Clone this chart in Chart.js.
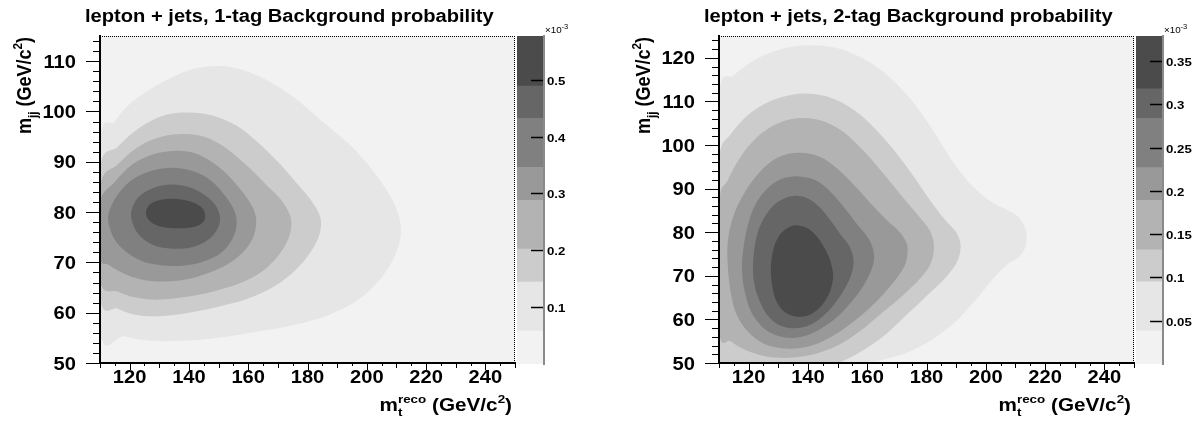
<!DOCTYPE html>
<html>
<head>
<meta charset="utf-8">
<script src="https://cdn.jsdelivr.net/npm/chart.js@4.4.0/dist/chart.umd.min.js"></script>
<style>
  body { margin: 0; background: #fff; width: 1198px; height: 424px; position: relative; overflow: hidden; }
  canvas { position: absolute; top: 0; }
</style>
</head>
<body>
<canvas id="main1" width="516" height="424" style="left:0"></canvas>
<canvas id="pal1" width="85" height="424" style="left:515px"></canvas>
<canvas id="main2" width="516" height="424" style="left:619px"></canvas>
<canvas id="pal2" width="64" height="424" style="left:1134px"></canvas>
<script>
// grey palette, lightest band first
const bandColors = ['#f2f2f2', '#e6e6e6', '#cccccc', '#b3b3b3', '#999999', '#808080', '#666666', '#4b4b4b'];

// contour levels (x10^-3)
const levels1 = [0, 0.058, 0.144, 0.202, 0.288, 0.346, 0.432, 0.489, 0.577];
const levels2 = [0, 0.038, 0.095, 0.132, 0.189, 0.227, 0.284, 0.318, 0.379];

const paletteTicks1 = [0.1, 0.2, 0.3, 0.4, 0.5];
const paletteTicks2 = [0.05, 0.1, 0.15, 0.2, 0.25, 0.3, 0.35];

const xTicks = [120, 140, 160, 180, 200, 220, 240];
const yTicks1 = [50, 60, 70, 80, 90, 100, 110];
const yTicks2 = [50, 60, 70, 80, 90, 100, 110, 120];

// 1-tag contour outlines [m_t, m_jj], outermost level first
const tag1Lvl1 = [[110,93.5],[115,98],[120,101.5],[130,105.5],[140,108.2],[148,109],[156,108.6],[165,106.6],[175,103],[185,98],[195,93],[203,87.5],[209,82],[211.5,77],[210,72],[205,67],[197,62.5],[187,59.5],[175,57.5],[163,56.2],[150,55],[138,54.4],[127,54.4],[118,55.3],[110,56.5]];
const tag1Lvl2 = [[110,88.5],[116,93],[124,97],[132,99.3],[140,99.8],[148,99.2],[156,97.2],[163,94],[170,90],[176,86],[181,82.5],[184.3,79],[184,75.5],[181,72],[176,68.5],[169,65.3],[160,62.8],[150,61.2],[140,60],[130,59.3],[122,59.6],[116,60.8],[110,63]];
const tag1Lvl3 = [[110,85],[116,89.5],[123,93],[131,95],[139,95.5],[146,94.8],[153,92.5],[160,89],[166,85.5],[171,82.5],[174.3,79],[174,75.5],[171,72],[166,68.8],[159,66.3],[150,64.5],[140,63.2],[130,62.6],[122,63],[116,64.2],[110,66.5]];
const tag1Lvl4 = [[110,82],[115,86],[121,89.5],[128,91.5],[136,92.2],[143,91.5],[150,89],[156,85.5],[160.5,82],[162.6,79],[162,75.5],[159,72.5],[154,70],[147,68],[139,66.6],[131,66.2],[124,66.6],[118,67.8],[113,69.5],[110,71]];
const tag1Lvl5 = [[113,80],[116,83.5],[121,86.5],[128,88.3],[135,88.8],[142,88],[148,86],[152.5,83],[155.5,80],[156,77],[154,74],[150,71.5],[144,70],[137,69.3],[130,69.5],[124,70.3],[119,72],[115,74.5],[113,77.5]];
const tag1Lvl6 = [[120.5,80],[123,83],[128,84.8],[134,85.5],[140,85],[145,83.5],[148.8,81.5],[150.5,79],[149.5,76.5],[146,74.3],[141,73],[135,72.7],[129,73.2],[124.5,74.7],[121.5,77]];
const tag1Lvl7 = [[125.5,80],[127,81.6],[131,82.5],[136,82.6],[141,82],[144.5,80.8],[145.5,79],[144,77.6],[140,76.9],[135,76.8],[130,77.2],[126.5,78.4]];

// 2-tag contour outlines [m_t, m_jj]
const tag2Lvl1 = [[110,112],[115,116],[122,119.5],[130,121.8],[138,122.8],[146,122.7],[154,121.3],[162,118.5],[170,114],[177,108.5],[183,102.5],[188,97],[193,92.5],[198,89],[203,86.5],[207.5,85],[211,83.5],[213.5,80.5],[213.5,77],[211.5,74.5],[207,72.5],[202,69],[196,64],[189,59],[181,55],[172,52],[162,50.2],[152,48.5],[130,47],[108,47],[108,80]];
const tag2Lvl2 = [[110,97],[114,102.5],[120,107],[127,110],[135,111.6],[142,111.7],[149,110.5],[156,107.8],[163,103.5],[170,98],[176,92.5],[181,87.5],[186,83],[190,80],[191.5,77],[190.5,73.5],[187,70],[181,66],[174,61.5],[167,57],[160,53.5],[152,50.5],[144,48.5],[130,47],[112,47],[108,52],[108,75]];
const tag2Lvl3 = [[110,86],[113,92],[118,98],[124,102.5],[131,105.3],[138,106.2],[145,105.5],[152,103],[159,98.5],[166,93],[172,88],[177,84],[181,80.5],[182.5,77],[181.5,73],[178,69.5],[172,65.5],[165,61.5],[158,57.5],[150,54],[142,52],[134,51.2],[126,51.5],[119,53],[114,55],[110,57.5]];
const tag2Lvl4 = [[113,78],[115,84],[119,89.5],[124,94],[130,97.2],[137,98.2],[144,97.3],[150,94.5],[156,90.5],[162,86],[167,82.5],[171,80],[173.5,77],[173,73],[170,69.5],[165,65.5],[159,61.5],[152,57.8],[145,55],[138,53.5],[131,53.4],[125,54.5],[120,57],[116,61],[114,66],[113,72]];
const tag2Lvl5 = [[118,75],[119.5,81],[122,86],[126,89.8],[131,92.2],[137,92.8],[143,91.8],[148,89],[153,85],[157,81.5],[160.5,78.5],[162.3,75],[161.5,71.5],[158.5,67.5],[154,63.5],[148.5,59.8],[142,57],[136,55.8],[130,56.2],[125,58],[121,61.5],[118.8,66],[117.8,70.5]];
const tag2Lvl6 = [[121.5,73],[122.5,78.5],[125,83],[129,86.5],[134,88.2],[139,88],[143.5,86],[147.5,82.8],[151,79.5],[154,76.8],[155.4,73.5],[154.5,70],[151.5,66],[147,62],[142,59.2],[136.5,58],[131,58.5],[126.5,60.8],[123.5,64.5],[121.8,68.5]];
const tag2Lvl7 = [[127.5,72],[128.5,76.5],[131,79.8],[135,81.5],[139.5,81],[143,79],[145.5,76.5],[147.5,73.5],[148.5,70],[147.5,66.5],[145,63.5],[141,61.2],[136.5,60.6],[132.5,61.5],[129.5,64],[128,67.5]];

const tag1Contours = [tag1Lvl1, tag1Lvl2, tag1Lvl3, tag1Lvl4, tag1Lvl5, tag1Lvl6, tag1Lvl7];
const tag2Contours = [tag2Lvl1, tag2Lvl2, tag2Lvl3, tag2Lvl4, tag2Lvl5, tag2Lvl6, tag2Lvl7];

const FONT = "'Liberation Sans', Arial, Helvetica, sans-serif";
const STRETCH = 1.15;   // the original text is wider than Arial at the same height
Chart.defaults.font.family = FONT;

// closed Catmull-Rom spline through pixel points
function closedSpline(ctx, pts) {
    const n = pts.length;
    ctx.moveTo(pts[0].x, pts[0].y);
    for (let i = 0; i < n; i++) {
        const p0 = pts[(i - 1 + n) % n], p1 = pts[i], p2 = pts[(i + 1) % n], p3 = pts[(i + 2) % n];
        ctx.bezierCurveTo(
            p1.x + (p2.x - p0.x) / 6, p1.y + (p2.y - p0.y) / 6,
            p2.x - (p3.x - p1.x) / 6, p2.y - (p3.y - p1.y) / 6,
            p2.x, p2.y);
    }
    ctx.closePath();
}

// horizontally stretched text
function wideText(ctx, text, x, y, align, font) {
    ctx.save();
    ctx.translate(x, y);
    ctx.scale(STRETCH, 1);
    ctx.font = font;
    ctx.textAlign = align;
    ctx.textBaseline = 'alphabetic';
    ctx.fillText(text, 0, 0);
    ctx.restore();
}

// text with sub/superscripts: [text, sizeFactor, shift(em, + = down), stackOnPrevious]
function richWidth(ctx, parts, size) {
    let w = 0, lastStart = 0, lastW = 0;
    parts.forEach(([t, f, , stack]) => {
        ctx.font = `bold ${size * f}px ${FONT}`;
        const tw = ctx.measureText(t).width;
        if (stack) { w = lastStart + Math.max(lastW, tw); }
        else { lastStart = w; lastW = tw; w += tw; }
    });
    return w;
}
function drawRich(ctx, parts, size, x, y) {
    let cx = x, lastStart = x, lastW = 0;
    ctx.textAlign = 'left';
    ctx.textBaseline = 'alphabetic';
    parts.forEach(([t, f, dy, stack]) => {
        ctx.font = `bold ${size * f}px ${FONT}`;
        const tw = ctx.measureText(t).width;
        if (stack) {
            ctx.fillText(t, lastStart, y + dy * size);
            cx = lastStart + Math.max(lastW, tw);
        } else {
            ctx.fillText(t, cx, y + dy * size);
            lastStart = cx; lastW = tw; cx += tw;
        }
    });
}

function hline(ctx, x1, y1, x2, y2) {
    ctx.beginPath(); ctx.moveTo(x1, y1); ctx.lineTo(x2, y2); ctx.stroke();
}

const xTitle = [['m', 1, 0], ['t', 0.65, 0.28], ['reco', 0.65, -0.42, true], [' (GeV/c', 1, 0], ['2', 0.65, -0.45], [')', 1, 0]];
const yTitle = [['m', 1, 0], ['jj', 0.65, 0.28], [' (GeV/c', 1, 0], ['2', 0.65, -0.45], [')', 1, 0]];

// ROOT style frame, ticks, titles and filled contours
const rootPlot = {
    id: 'rootPlot',
    beforeDraw(chart) {
        const {ctx, chartArea: a} = chart;
        ctx.save();
        ctx.fillStyle = bandColors[0];
        ctx.fillRect(a.left, a.top, a.right - a.left, a.bottom - a.top);
        ctx.restore();
    },
    beforeDatasetsDraw(chart) {
        const {ctx, chartArea: a} = chart;
        ctx.save();
        ctx.beginPath();
        ctx.rect(a.left, a.top, a.right - a.left, a.bottom - a.top);
        ctx.clip();
        chart.data.datasets.forEach((ds, i) => {
            const pts = chart.getDatasetMeta(i).data.map(p => ({x: p.x, y: p.y}));
            ctx.beginPath();
            closedSpline(ctx, pts);
            ctx.fillStyle = ds.backgroundColor;
            ctx.fill();
        });
        ctx.restore();
    },
    afterDraw(chart, args, opts) {
        const {ctx, chartArea: a} = chart;
        const xs = chart.scales.x, ys = chart.scales.y;
        ctx.save();
        ctx.strokeStyle = '#000';
        ctx.fillStyle = '#000';
        ctx.lineWidth = 1;
        // x ticks below the axis
        for (let v = xs.min; v <= xs.max; v += 5) {
            const px = Math.round(xs.getPixelForValue(v)) + 0.5;
            const len = v % 20 === 0 ? 7 : (v % 10 === 0 ? 5 : 3);
            hline(ctx, px, a.bottom, px, a.bottom + len);
        }
        // y ticks left of the axis
        for (let v = ys.min; v <= ys.max; v += 2) {
            const py = Math.round(ys.getPixelForValue(v)) + 0.5;
            const len = v % 10 === 0 ? 14 : 7;
            hline(ctx, a.left - len, py, a.left, py);
        }
        // dotted top and right frame
        ctx.setLineDash([1, 1]);
        hline(ctx, a.left, a.top + 0.5, a.right, a.top + 0.5);
        hline(ctx, a.right - 0.5, a.top, a.right - 0.5, a.bottom);
        ctx.setLineDash([]);

        // tick labels
        const tickFontStr = `bold 17.5px ${FONT}`;
        xs.ticks.forEach(t => wideText(ctx, String(t.value), xs.getPixelForValue(t.value), 383, 'center', tickFontStr));
        ys.ticks.forEach(t => wideText(ctx, String(t.value), a.left - 24, ys.getPixelForValue(t.value) + 6.5, 'right', tickFontStr));

        // title
        wideText(ctx, opts.title, a.left - 15, 22, 'left', `bold 17.5px ${FONT}`);

        // axis titles, right aligned to the axis end
        const size = 18;
        const wx = richWidth(ctx, xTitle, size) * STRETCH;
        ctx.save();
        ctx.translate(a.right - 3 - wx, 411);
        ctx.scale(STRETCH, 1);
        drawRich(ctx, xTitle, size, 0, 0);
        ctx.restore();

        const wy = richWidth(ctx, yTitle, size);
        ctx.save();
        ctx.translate(31, a.top + 1);
        ctx.scale(STRETCH, 1);
        ctx.rotate(-Math.PI / 2);
        drawRich(ctx, yTitle, size, -wy, 0);
        ctx.restore();
        ctx.restore();
    }
};

// palette axis: inward ticks, labels and the x10^-3 exponent
const paletteAxis = {
    id: 'paletteAxis',
    afterDraw(chart) {
        const {ctx, chartArea: a} = chart;
        const ys = chart.scales.y;
        ctx.save();
        ctx.strokeStyle = '#000';
        ctx.fillStyle = '#000';
        ctx.lineWidth = 1.5;
        ys.ticks.forEach(t => {
            const py = Math.round(ys.getPixelForValue(t.value)) + 0.5;
            hline(ctx, a.right - 13, py, a.right - 1, py);
            wideText(ctx, String(t.value), a.right + 3, py + 4, 'left', `bold 11.5px ${FONT}`);
        });
        wideText(ctx, '\u00d710', a.right + 1, a.top - 3, 'left', `8.5px ${FONT}`);
        ctx.font = `8.5px ${FONT}`;
        const w = ctx.measureText('\u00d710').width * STRETCH;
        wideText(ctx, '-3', a.right + 1 + w, a.top - 7, 'left', `6.5px ${FONT}`);
        ctx.restore();
    }
};

function makeMain(id, title, yMax, yTicks, contours) {
    return new Chart(document.getElementById(id), {
        type: 'scatter',
        data: {
            datasets: contours.map((c, i) => ({
                data: c.map(([x, y]) => ({x, y})),
                backgroundColor: bandColors[i + 1],
                pointRadius: 0,
                pointHoverRadius: 0,
                showLine: false
            }))
        },
        options: {
            responsive: false,
            animation: false,
            events: [],
            layout: {padding: {top: 36, right: 1, left: 0, bottom: 0}},
            plugins: {
                legend: {display: false},
                tooltip: {enabled: false},
                rootPlot: {title: title}
            },
            scales: {
                x: {
                    type: 'linear', min: 110, max: 250,
                    afterBuildTicks: s => { s.ticks = xTicks.map(v => ({value: v})); },
                    afterFit: s => { s.height = 61; },
                    grid: {drawOnChartArea: false, drawTicks: false},
                    border: {color: '#000', width: 2, z: 1},
                    ticks: {display: false}
                },
                y: {
                    type: 'linear', min: 50, max: yMax,
                    afterBuildTicks: s => { s.ticks = yTicks.map(v => ({value: v})); },
                    afterFit: s => { s.width = 100; },
                    grid: {drawOnChartArea: false, drawTicks: false},
                    border: {color: '#000', width: 2, z: 1},
                    ticks: {display: false}
                }
            }
        },
        plugins: [rootPlot]
    });
}

function makePalette(id, levels, ticks, axisWidth) {
    return new Chart(document.getElementById(id), {
        type: 'bar',
        data: {
            labels: ['z'],
            datasets: bandColors.map((c, i) => ({
                data: [levels[i + 1] - levels[i]],
                backgroundColor: c,
                borderWidth: 0,
                barPercentage: 1,
                categoryPercentage: 1
            }))
        },
        options: {
            responsive: false,
            animation: false,
            events: [],
            layout: {padding: {top: 36, left: 2, bottom: 60, right: 0}},
            plugins: {legend: {display: false}, tooltip: {enabled: false}},
            scales: {
                x: {display: false, stacked: true},
                y: {
                    stacked: true, position: 'right', min: 0, max: levels[levels.length - 1],
                    afterBuildTicks: s => { s.ticks = ticks.map(v => ({value: v})); },
                    afterFit: s => { s.width = axisWidth; },
                    grid: {drawOnChartArea: false, drawTicks: false},
                    border: {color: '#8a8a8a', width: 2, z: 1},
                    ticks: {display: false}
                }
            }
        },
        plugins: [paletteAxis]
    });
}

makeMain('main1', 'lepton + jets, 1-tag Background probability', 115, yTicks1, tag1Contours);
makePalette('pal1', levels1, paletteTicks1, 56);
makeMain('main2', 'lepton + jets, 2-tag Background probability', 125, yTicks2, tag2Contours);
makePalette('pal2', levels2, paletteTicks2, 35);
</script>
</body>
</html>
